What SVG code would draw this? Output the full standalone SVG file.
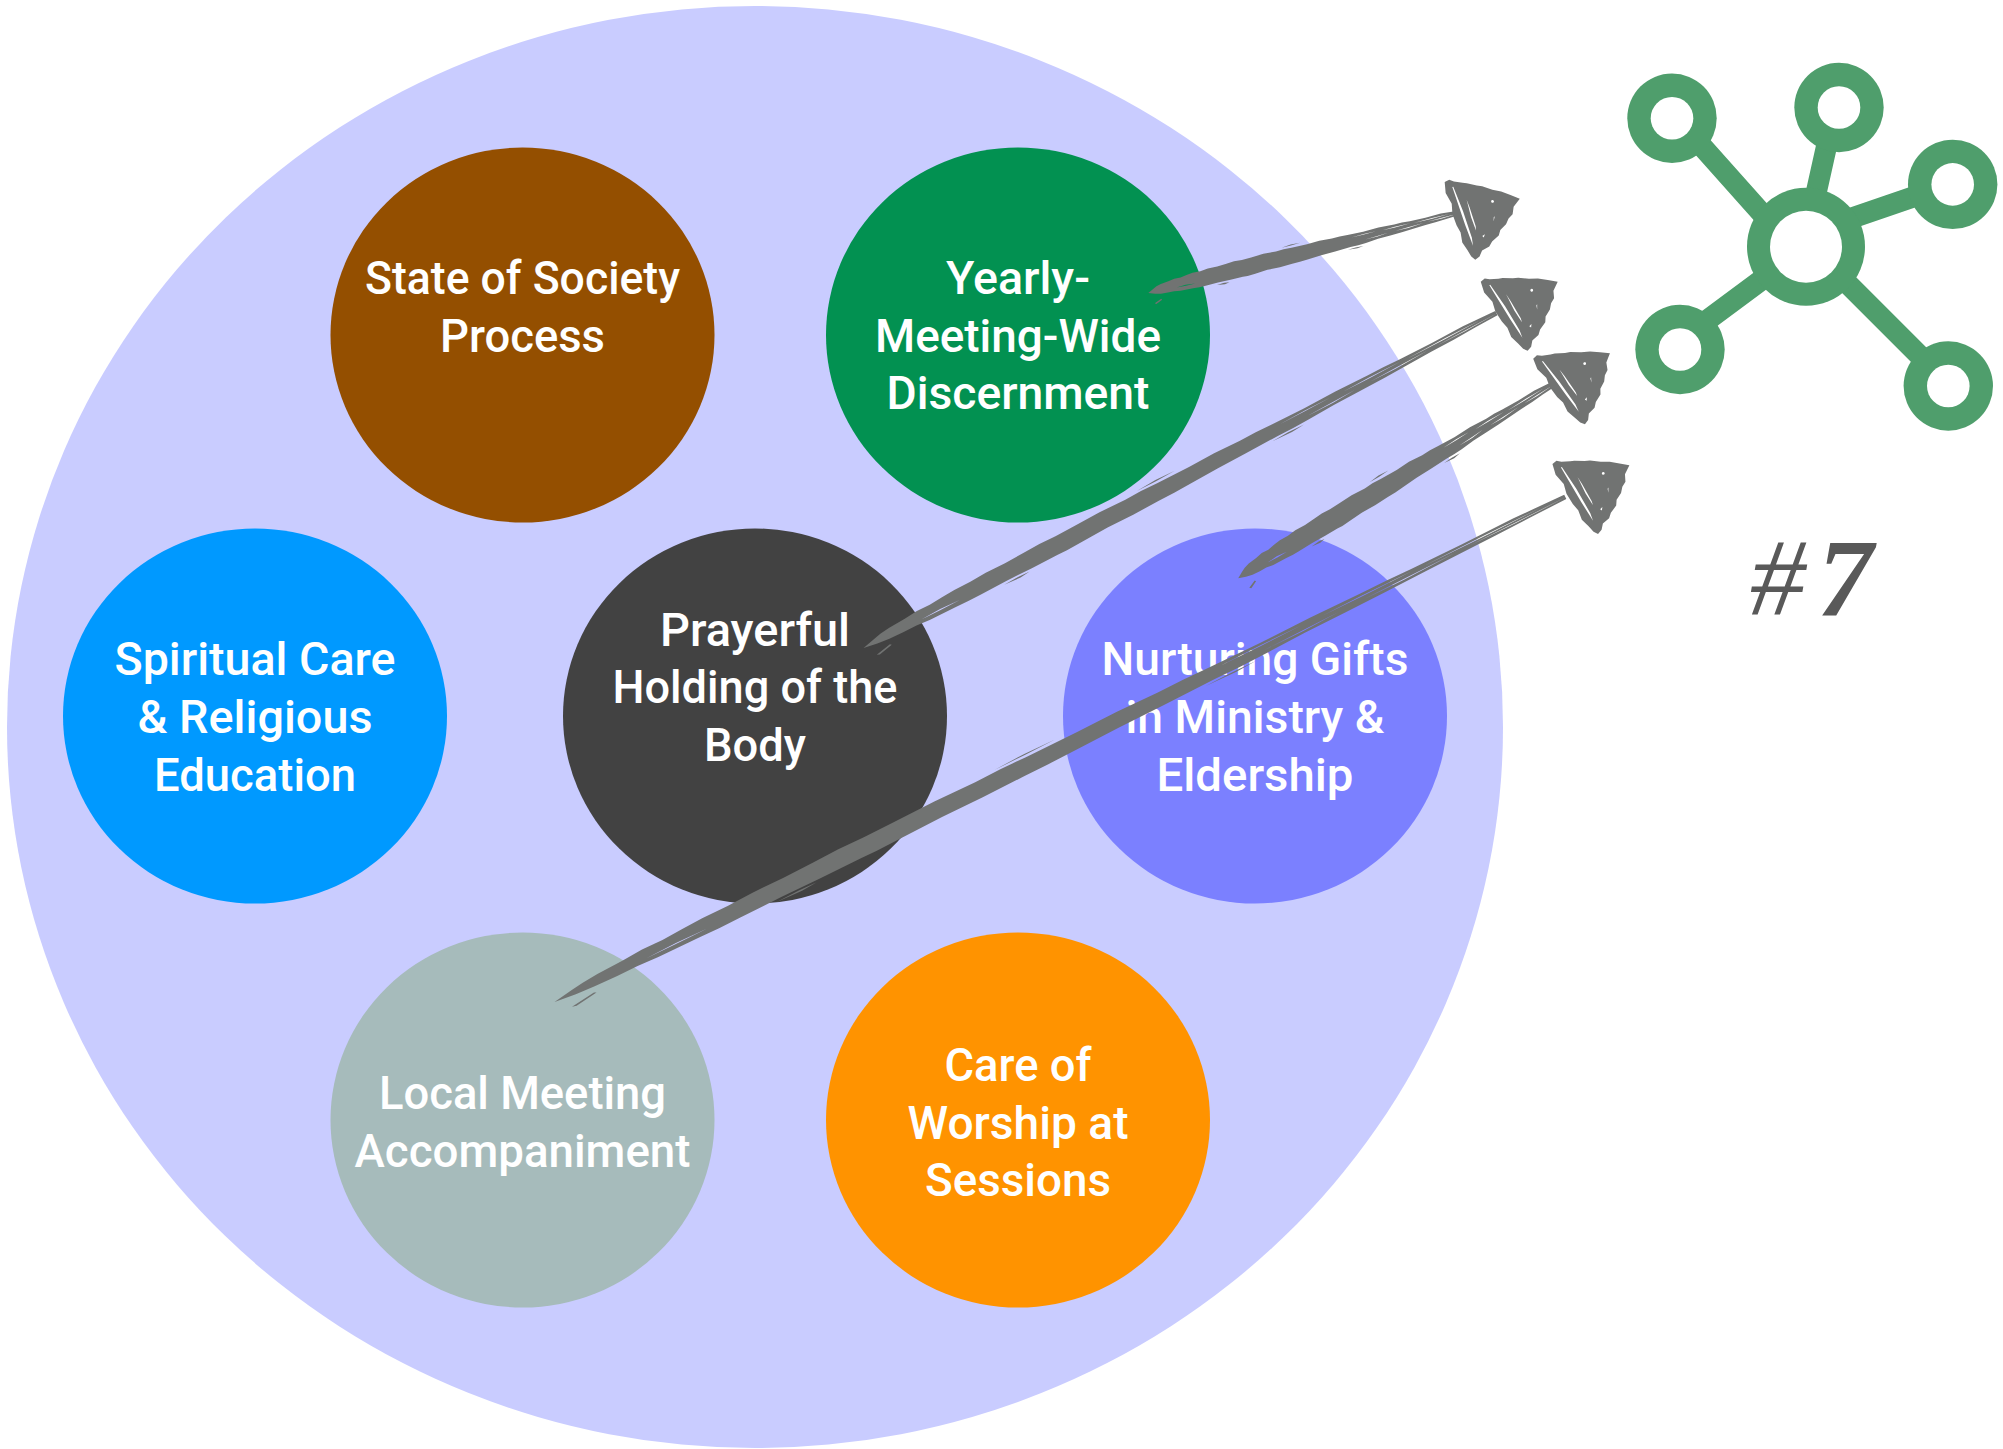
<svg xmlns="http://www.w3.org/2000/svg" width="2003" height="1449" viewBox="0 0 2003 1449">
<style>
.n{font-family:"Roboto","Liberation Sans",sans-serif;font-size:47px;font-weight:500;fill:#fff;text-anchor:middle}
.b{fill:#717372;fill-rule:evenodd}
.g{fill:#4f9e6c}
.h{fill:#fff}
.l{stroke:#4f9e6c;stroke-width:21;fill:none}
</style>
<defs>
<path id="shaft" class="b" d="M0,1 L18,-1.5 30,-3 45,-4 70,-4.6 90,-5.6 110,-5.2 130,-6 150,-6.6 175,-6.3 200,-7 230,-6.6 260,-7 285,-7.4 310,-6.9 340,-7 380,-7.4 420,-6.6 445,-6.9 470,-6.4 520,-6 560,-6.4 600,-5.5 625,-5.6 650,-5.2 700,-4.5 750,-4.8 800,-4 825,-4.1 850,-3.5 900,-3 950,-3.2 1000,-2 L1000,2 965,2.4 930,3 895,3.2 860,3.6 820,4.2 780,4.5 740,4.6 700,5.5 675,5.8 650,5.6 600,6 555,6.2 510,6.8 485,7.2 460,7.2 420,7.5 380,7 340,7.6 315,8 300,7.6 260,7.5 220,7 180,7.1 160,7.1 140,6.6 100,6 80,5 60,4.8 38,4.2 20,3 Z M660,-2.2 L700,-2.6 740,-2.3 700,-2 Z M700,2.4 L740,2 775,1.6 740,2.6 Z M760,-1.6 L800,-2 850,-1.6 800,-1.3 Z M800,1.5 L840,1.2 890,1 840,1.9 Z M860,-1 L920,-1.4 975,-1 920,-0.7 Z M905,0.8 L950,0.6 1000,0.5 950,1.2 Z M90,2.4 L120,2 150,3 120,2.9 Z M12,11 L35,8.5 37,9.5 16,12 Z M440,-8.6 L470,-9.4 500,-8.8 470,-8.4 Z M640,7.4 L670,8.2 690,7.4 665,7 Z M215,9 L240,10 255,9.2 238,8.6 Z"/>
<path id="head" class="b" d="M0,-41 L5,-42 9,-39 17,-35.5 21,-34 30,-29 35,-27 44,-21 52,-17 60,-11 68,-5 64,-2 60,1 57,8 52,11 48,16 41,20 38,25 30,29 26,33 18,35 14,40 9,42 6,38 4,31 1,22 2,12 0,4 -1,-8 1,-18 -2,-30 Z M6,-34 L7,-34 10,-8 11.5,20 10.5,28 8.4,6 Z M16.5,-18 L17.3,-10 18.2,10 17.4,14 16.2,0 Z M22,21 L25,20 23,23 Z M41,-11 A1.4,1.4 0 1 0 41.1,-11 Z M38,6 L39.2,5.4 36.8,10 Z"/>
</defs>
<ellipse id="outer" cx="755" cy="727" rx="748" ry="721" fill="#c9ccff"/>
<g id="state-of-society"><ellipse cx="522.5" cy="335" rx="192" ry="187.5" fill="#944f00"/><text class="n"><tspan x="522.5" y="293.5" textLength="315" lengthAdjust="spacingAndGlyphs">State of Society</tspan><tspan x="522.5" y="351.5" textLength="165" lengthAdjust="spacingAndGlyphs">Process</tspan></text></g>
<g id="yearly-meeting"><ellipse cx="1018" cy="335" rx="192" ry="187.5" fill="#029151"/><text class="n"><tspan x="1018" y="293.5" textLength="144" lengthAdjust="spacingAndGlyphs">Yearly-</tspan><tspan x="1018" y="351.5" textLength="286" lengthAdjust="spacingAndGlyphs">Meeting-Wide</tspan><tspan x="1018" y="408.5" textLength="263" lengthAdjust="spacingAndGlyphs">Discernment</tspan></text></g>
<g id="spiritual-care"><ellipse cx="255" cy="716" rx="192" ry="187.5" fill="#0099ff"/><text class="n"><tspan x="255" y="674.5" textLength="281" lengthAdjust="spacingAndGlyphs">Spiritual Care</tspan><tspan x="255" y="732.5" textLength="235" lengthAdjust="spacingAndGlyphs">&amp; Religious</tspan><tspan x="255" y="790.5" textLength="202" lengthAdjust="spacingAndGlyphs">Education</tspan></text></g>
<g id="prayerful-holding"><ellipse cx="755" cy="716" rx="192" ry="187.5" fill="#424242"/><text class="n"><tspan x="755" y="646" textLength="190" lengthAdjust="spacingAndGlyphs">Prayerful</tspan><tspan x="755" y="703" textLength="285" lengthAdjust="spacingAndGlyphs">Holding of the</tspan><tspan x="755" y="761" textLength="102" lengthAdjust="spacingAndGlyphs">Body</tspan></text></g>
<g id="nurturing-gifts"><ellipse cx="1255" cy="716" rx="192" ry="187.5" fill="#7b80ff"/><text class="n"><tspan x="1255" y="674.5" textLength="307" lengthAdjust="spacingAndGlyphs">Nurturing Gifts</tspan><tspan x="1255" y="732.5" textLength="259" lengthAdjust="spacingAndGlyphs">in Ministry &amp;</tspan><tspan x="1255" y="790.5" textLength="197" lengthAdjust="spacingAndGlyphs">Eldership</tspan></text></g>
<g id="local-meeting"><ellipse cx="522.5" cy="1120" rx="192" ry="187.5" fill="#a6bbbb"/><text class="n"><tspan x="522.5" y="1108.5" textLength="287" lengthAdjust="spacingAndGlyphs">Local Meeting</tspan><tspan x="522.5" y="1166.5" textLength="336" lengthAdjust="spacingAndGlyphs">Accompaniment</tspan></text></g>
<g id="care-of-worship"><ellipse cx="1018" cy="1120" rx="192" ry="187.5" fill="#ff9300"/><text class="n"><tspan x="1018" y="1080.5" textLength="147" lengthAdjust="spacingAndGlyphs">Care of</tspan><tspan x="1018" y="1138.5" textLength="221" lengthAdjust="spacingAndGlyphs">Worship at</tspan><tspan x="1018" y="1195.5" textLength="186" lengthAdjust="spacingAndGlyphs">Sessions</tspan></text></g>
<g id="connectors">
<use href="#shaft" transform="translate(1148,292) rotate(-14.3) scale(.319,1.15)"/>
<use href="#head" transform="translate(1455.5,221.5) rotate(-15.3)"/>
<use href="#shaft" transform="translate(863,647) rotate(-27.8) scale(.716,1.2)"/>
<use href="#head" transform="translate(1500,318) rotate(-28)"/>
<use href="#shaft" transform="translate(1237.5,577) rotate(-31.4) scale(.3685,1.4)"/>
<use href="#head" transform="translate(1555,393.5) rotate(-32.1)"/>
<use href="#shaft" transform="translate(554,1001) rotate(-26.5) scale(1.13,1.2)"/>
<use href="#head" transform="translate(1571,500.5) rotate(-26.9)"/>
</g>
<g id="network-icon">
<path class="l" d="M1697.7,141.5 L1767,219.3 M1827.7,141 L1815,198 M1919,195 L1849,219 M1703.5,323 L1765.5,277 M1924,360 L1843,279"/>
<circle class="g" cx="1806" cy="246.7" r="59"/><circle class="h" cx="1806" cy="246.7" r="36"/>
<circle class="g" cx="1672" cy="118.2" r="44.7"/><circle class="h" cx="1672" cy="118.2" r="21.3"/>
<circle class="g" cx="1839" cy="107.5" r="44.7"/><circle class="h" cx="1839" cy="107.5" r="21.3"/>
<circle class="g" cx="1952.7" cy="184.4" r="44.7"/><circle class="h" cx="1952.7" cy="184.4" r="21.3"/>
<circle class="g" cx="1680" cy="349.5" r="44.7"/><circle class="h" cx="1680" cy="349.5" r="21.3"/>
<circle class="g" cx="1948.3" cy="386" r="44.7"/><circle class="h" cx="1948.3" cy="386" r="21.3"/>
</g>
<text id="number" x="1750" y="615" font-family="'Liberation Serif',serif" font-style="italic" font-size="111" fill="#595959">#<tspan dx="12" font-weight="700">7</tspan></text>
</svg>
